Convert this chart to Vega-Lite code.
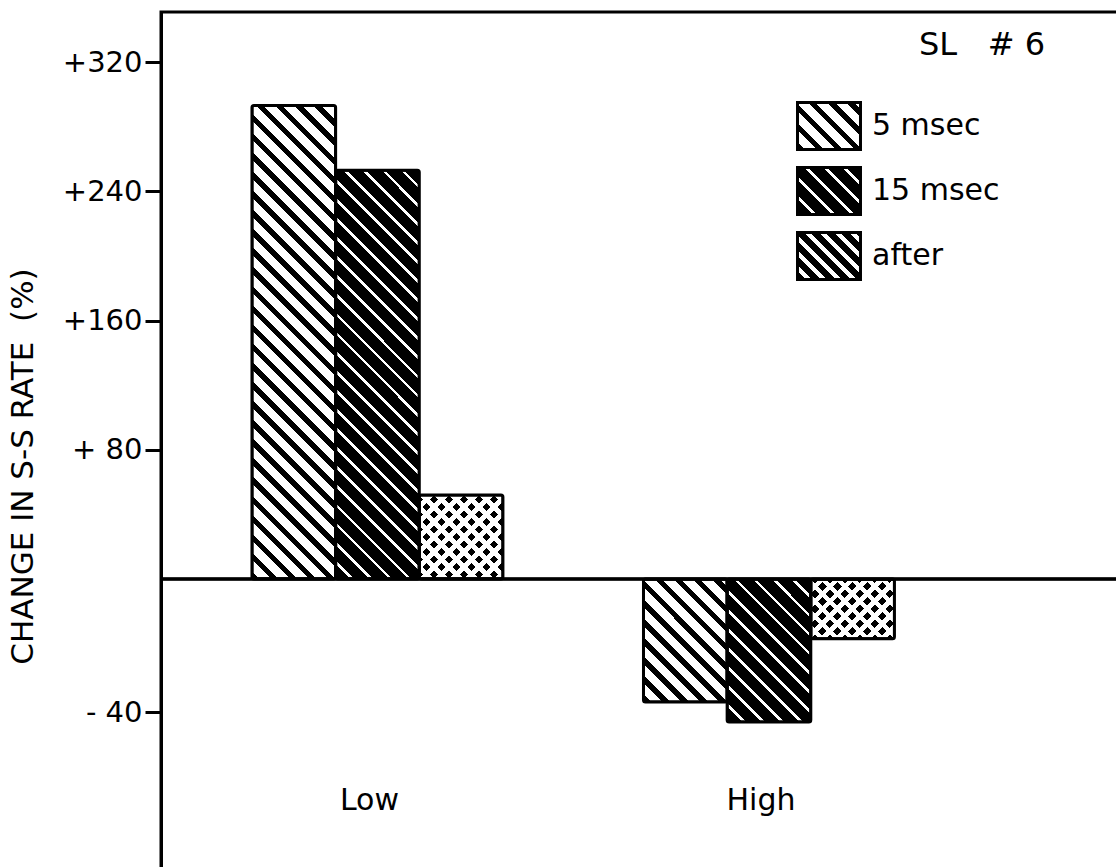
{
  "$schema": "https://vega.github.io/schema/vega-lite/v6.json",
  "width": 960,
  "height": 870,
  "autosize": "none",
  "padding": {"left": 161, "top": 12, "right": 0, "bottom": 0},
  "background": "#ffffff",
  "title": {"text": "SL\u00a0\u00a0\u00a0#\u00a06", "anchor": "end", "frame": "group", "orient": "top", "offset": -50, "dx": -76, "fontSize": 32, "fontWeight": "normal", "color": "#000", "font": "DejaVu Sans"},
  "data": {"values": [
    {"group": "Low", "duration": "5 msec", "change": 293},
    {"group": "Low", "duration": "15 msec", "change": 253},
    {"group": "Low", "duration": "after", "change": 52},
    {"group": "High", "duration": "5 msec", "change": -37},
    {"group": "High", "duration": "15 msec", "change": -43},
    {"group": "High", "duration": "after", "change": -18}
  ]},
  "params": [
    {"name": "stA", "value": [
      {"offset":0,"color":"#000"},{"offset":0.0133,"color":"#000"},{"offset":0.0133,"color":"#fff"},{"offset":0.0333,"color":"#fff"},
      {"offset":0.0333,"color":"#000"},{"offset":0.0467,"color":"#000"},{"offset":0.0467,"color":"#fff"},{"offset":0.0667,"color":"#fff"},
      {"offset":0.0667,"color":"#000"},{"offset":0.08,"color":"#000"},{"offset":0.08,"color":"#fff"},{"offset":0.1,"color":"#fff"},
      {"offset":0.1,"color":"#000"},{"offset":0.1133,"color":"#000"},{"offset":0.1133,"color":"#fff"},{"offset":0.1333,"color":"#fff"},
      {"offset":0.1333,"color":"#000"},{"offset":0.1467,"color":"#000"},{"offset":0.1467,"color":"#fff"},{"offset":0.1667,"color":"#fff"},
      {"offset":0.1667,"color":"#000"},{"offset":0.18,"color":"#000"},{"offset":0.18,"color":"#fff"},{"offset":0.2,"color":"#fff"},
      {"offset":0.2,"color":"#000"},{"offset":0.2133,"color":"#000"},{"offset":0.2133,"color":"#fff"},{"offset":0.2333,"color":"#fff"},
      {"offset":0.2333,"color":"#000"},{"offset":0.2467,"color":"#000"},{"offset":0.2467,"color":"#fff"},{"offset":0.2667,"color":"#fff"},
      {"offset":0.2667,"color":"#000"},{"offset":0.28,"color":"#000"},{"offset":0.28,"color":"#fff"},{"offset":0.3,"color":"#fff"},
      {"offset":0.3,"color":"#000"},{"offset":0.3133,"color":"#000"},{"offset":0.3133,"color":"#fff"},{"offset":0.3333,"color":"#fff"},
      {"offset":0.3333,"color":"#000"},{"offset":0.3467,"color":"#000"},{"offset":0.3467,"color":"#fff"},{"offset":0.3667,"color":"#fff"},
      {"offset":0.3667,"color":"#000"},{"offset":0.38,"color":"#000"},{"offset":0.38,"color":"#fff"},{"offset":0.4,"color":"#fff"},
      {"offset":0.4,"color":"#000"},{"offset":0.4133,"color":"#000"},{"offset":0.4133,"color":"#fff"},{"offset":0.4333,"color":"#fff"},
      {"offset":0.4333,"color":"#000"},{"offset":0.4467,"color":"#000"},{"offset":0.4467,"color":"#fff"},{"offset":0.4667,"color":"#fff"},
      {"offset":0.4667,"color":"#000"},{"offset":0.48,"color":"#000"},{"offset":0.48,"color":"#fff"},{"offset":0.5,"color":"#fff"},
      {"offset":0.5,"color":"#000"},{"offset":0.5133,"color":"#000"},{"offset":0.5133,"color":"#fff"},{"offset":0.5333,"color":"#fff"},
      {"offset":0.5333,"color":"#000"},{"offset":0.5467,"color":"#000"},{"offset":0.5467,"color":"#fff"},{"offset":0.5667,"color":"#fff"},
      {"offset":0.5667,"color":"#000"},{"offset":0.58,"color":"#000"},{"offset":0.58,"color":"#fff"},{"offset":0.6,"color":"#fff"},
      {"offset":0.6,"color":"#000"},{"offset":0.6133,"color":"#000"},{"offset":0.6133,"color":"#fff"},{"offset":0.6333,"color":"#fff"},
      {"offset":0.6333,"color":"#000"},{"offset":0.6467,"color":"#000"},{"offset":0.6467,"color":"#fff"},{"offset":0.6667,"color":"#fff"},
      {"offset":0.6667,"color":"#000"},{"offset":0.68,"color":"#000"},{"offset":0.68,"color":"#fff"},{"offset":0.7,"color":"#fff"},
      {"offset":0.7,"color":"#000"},{"offset":0.7133,"color":"#000"},{"offset":0.7133,"color":"#fff"},{"offset":0.7333,"color":"#fff"},
      {"offset":0.7333,"color":"#000"},{"offset":0.7467,"color":"#000"},{"offset":0.7467,"color":"#fff"},{"offset":0.7667,"color":"#fff"},
      {"offset":0.7667,"color":"#000"},{"offset":0.78,"color":"#000"},{"offset":0.78,"color":"#fff"},{"offset":0.8,"color":"#fff"},
      {"offset":0.8,"color":"#000"},{"offset":0.8133,"color":"#000"},{"offset":0.8133,"color":"#fff"},{"offset":0.8333,"color":"#fff"},
      {"offset":0.8333,"color":"#000"},{"offset":0.8467,"color":"#000"},{"offset":0.8467,"color":"#fff"},{"offset":0.8667,"color":"#fff"},
      {"offset":0.8667,"color":"#000"},{"offset":0.88,"color":"#000"},{"offset":0.88,"color":"#fff"},{"offset":0.9,"color":"#fff"},
      {"offset":0.9,"color":"#000"},{"offset":0.9133,"color":"#000"},{"offset":0.9133,"color":"#fff"},{"offset":0.9333,"color":"#fff"},
      {"offset":0.9333,"color":"#000"},{"offset":0.9467,"color":"#000"},{"offset":0.9467,"color":"#fff"},{"offset":0.9667,"color":"#fff"},
      {"offset":0.9667,"color":"#000"},{"offset":0.98,"color":"#000"},{"offset":0.98,"color":"#fff"},{"offset":1,"color":"#fff"}
    ]},
    {"name": "stB", "value": [
      {"offset":0,"color":"#000"},{"offset":0.0267,"color":"#000"},{"offset":0.0267,"color":"#fff"},{"offset":0.0333,"color":"#fff"},
      {"offset":0.0333,"color":"#000"},{"offset":0.06,"color":"#000"},{"offset":0.06,"color":"#fff"},{"offset":0.0667,"color":"#fff"},
      {"offset":0.0667,"color":"#000"},{"offset":0.0933,"color":"#000"},{"offset":0.0933,"color":"#fff"},{"offset":0.1,"color":"#fff"},
      {"offset":0.1,"color":"#000"},{"offset":0.1267,"color":"#000"},{"offset":0.1267,"color":"#fff"},{"offset":0.1333,"color":"#fff"},
      {"offset":0.1333,"color":"#000"},{"offset":0.16,"color":"#000"},{"offset":0.16,"color":"#fff"},{"offset":0.1667,"color":"#fff"},
      {"offset":0.1667,"color":"#000"},{"offset":0.1933,"color":"#000"},{"offset":0.1933,"color":"#fff"},{"offset":0.2,"color":"#fff"},
      {"offset":0.2,"color":"#000"},{"offset":0.2267,"color":"#000"},{"offset":0.2267,"color":"#fff"},{"offset":0.2333,"color":"#fff"},
      {"offset":0.2333,"color":"#000"},{"offset":0.26,"color":"#000"},{"offset":0.26,"color":"#fff"},{"offset":0.2667,"color":"#fff"},
      {"offset":0.2667,"color":"#000"},{"offset":0.2933,"color":"#000"},{"offset":0.2933,"color":"#fff"},{"offset":0.3,"color":"#fff"},
      {"offset":0.3,"color":"#000"},{"offset":0.3267,"color":"#000"},{"offset":0.3267,"color":"#fff"},{"offset":0.3333,"color":"#fff"},
      {"offset":0.3333,"color":"#000"},{"offset":0.36,"color":"#000"},{"offset":0.36,"color":"#fff"},{"offset":0.3667,"color":"#fff"},
      {"offset":0.3667,"color":"#000"},{"offset":0.3933,"color":"#000"},{"offset":0.3933,"color":"#fff"},{"offset":0.4,"color":"#fff"},
      {"offset":0.4,"color":"#000"},{"offset":0.4267,"color":"#000"},{"offset":0.4267,"color":"#fff"},{"offset":0.4333,"color":"#fff"},
      {"offset":0.4333,"color":"#000"},{"offset":0.46,"color":"#000"},{"offset":0.46,"color":"#fff"},{"offset":0.4667,"color":"#fff"},
      {"offset":0.4667,"color":"#000"},{"offset":0.4933,"color":"#000"},{"offset":0.4933,"color":"#fff"},{"offset":0.5,"color":"#fff"},
      {"offset":0.5,"color":"#000"},{"offset":0.5267,"color":"#000"},{"offset":0.5267,"color":"#fff"},{"offset":0.5333,"color":"#fff"},
      {"offset":0.5333,"color":"#000"},{"offset":0.56,"color":"#000"},{"offset":0.56,"color":"#fff"},{"offset":0.5667,"color":"#fff"},
      {"offset":0.5667,"color":"#000"},{"offset":0.5933,"color":"#000"},{"offset":0.5933,"color":"#fff"},{"offset":0.6,"color":"#fff"},
      {"offset":0.6,"color":"#000"},{"offset":0.6267,"color":"#000"},{"offset":0.6267,"color":"#fff"},{"offset":0.6333,"color":"#fff"},
      {"offset":0.6333,"color":"#000"},{"offset":0.66,"color":"#000"},{"offset":0.66,"color":"#fff"},{"offset":0.6667,"color":"#fff"},
      {"offset":0.6667,"color":"#000"},{"offset":0.6933,"color":"#000"},{"offset":0.6933,"color":"#fff"},{"offset":0.7,"color":"#fff"},
      {"offset":0.7,"color":"#000"},{"offset":0.7267,"color":"#000"},{"offset":0.7267,"color":"#fff"},{"offset":0.7333,"color":"#fff"},
      {"offset":0.7333,"color":"#000"},{"offset":0.76,"color":"#000"},{"offset":0.76,"color":"#fff"},{"offset":0.7667,"color":"#fff"},
      {"offset":0.7667,"color":"#000"},{"offset":0.7933,"color":"#000"},{"offset":0.7933,"color":"#fff"},{"offset":0.8,"color":"#fff"},
      {"offset":0.8,"color":"#000"},{"offset":0.8267,"color":"#000"},{"offset":0.8267,"color":"#fff"},{"offset":0.8333,"color":"#fff"},
      {"offset":0.8333,"color":"#000"},{"offset":0.86,"color":"#000"},{"offset":0.86,"color":"#fff"},{"offset":0.8667,"color":"#fff"},
      {"offset":0.8667,"color":"#000"},{"offset":0.8933,"color":"#000"},{"offset":0.8933,"color":"#fff"},{"offset":0.9,"color":"#fff"},
      {"offset":0.9,"color":"#000"},{"offset":0.9267,"color":"#000"},{"offset":0.9267,"color":"#fff"},{"offset":0.9333,"color":"#fff"},
      {"offset":0.9333,"color":"#000"},{"offset":0.96,"color":"#000"},{"offset":0.96,"color":"#fff"},{"offset":0.9667,"color":"#fff"},
      {"offset":0.9667,"color":"#000"},{"offset":0.9933,"color":"#000"},{"offset":0.9933,"color":"#fff"},{"offset":1,"color":"#fff"}
    ]},
    {"name": "stC", "value": [
      {"offset":0,"color":"#000"},{"offset":0.0458,"color":"#000"},{"offset":0.0458,"color":"#fff"},{"offset":0.0833,"color":"#fff"},
      {"offset":0.0833,"color":"#000"},{"offset":0.1292,"color":"#000"},{"offset":0.1292,"color":"#fff"},{"offset":0.1667,"color":"#fff"},
      {"offset":0.1667,"color":"#000"},{"offset":0.2125,"color":"#000"},{"offset":0.2125,"color":"#fff"},{"offset":0.25,"color":"#fff"},
      {"offset":0.25,"color":"#000"},{"offset":0.2958,"color":"#000"},{"offset":0.2958,"color":"#fff"},{"offset":0.3333,"color":"#fff"},
      {"offset":0.3333,"color":"#000"},{"offset":0.3792,"color":"#000"},{"offset":0.3792,"color":"#fff"},{"offset":0.4167,"color":"#fff"},
      {"offset":0.4167,"color":"#000"},{"offset":0.4625,"color":"#000"},{"offset":0.4625,"color":"#fff"},{"offset":0.5,"color":"#fff"},
      {"offset":0.5,"color":"#000"},{"offset":0.5458,"color":"#000"},{"offset":0.5458,"color":"#fff"},{"offset":0.5833,"color":"#fff"},
      {"offset":0.5833,"color":"#000"},{"offset":0.6292,"color":"#000"},{"offset":0.6292,"color":"#fff"},{"offset":0.6667,"color":"#fff"},
      {"offset":0.6667,"color":"#000"},{"offset":0.7125,"color":"#000"},{"offset":0.7125,"color":"#fff"},{"offset":0.75,"color":"#fff"},
      {"offset":0.75,"color":"#000"},{"offset":0.7958,"color":"#000"},{"offset":0.7958,"color":"#fff"},{"offset":0.8333,"color":"#fff"},
      {"offset":0.8333,"color":"#000"},{"offset":0.8792,"color":"#000"},{"offset":0.8792,"color":"#fff"},{"offset":0.9167,"color":"#fff"},
      {"offset":0.9167,"color":"#000"},{"offset":0.9625,"color":"#000"},{"offset":0.9625,"color":"#fff"},{"offset":1,"color":"#fff"}
    ]},
    {"name": "stD", "value": [
      {"offset":0,"color":"rgba(255,255,255,0)"},{"offset":0.0458,"color":"rgba(255,255,255,0)"},{"offset":0.0458,"color":"#fff"},{"offset":0.0833,"color":"#fff"},
      {"offset":0.0833,"color":"rgba(255,255,255,0)"},{"offset":0.1292,"color":"rgba(255,255,255,0)"},{"offset":0.1292,"color":"#fff"},{"offset":0.1667,"color":"#fff"},
      {"offset":0.1667,"color":"rgba(255,255,255,0)"},{"offset":0.2125,"color":"rgba(255,255,255,0)"},{"offset":0.2125,"color":"#fff"},{"offset":0.25,"color":"#fff"},
      {"offset":0.25,"color":"rgba(255,255,255,0)"},{"offset":0.2958,"color":"rgba(255,255,255,0)"},{"offset":0.2958,"color":"#fff"},{"offset":0.3333,"color":"#fff"},
      {"offset":0.3333,"color":"rgba(255,255,255,0)"},{"offset":0.3792,"color":"rgba(255,255,255,0)"},{"offset":0.3792,"color":"#fff"},{"offset":0.4167,"color":"#fff"},
      {"offset":0.4167,"color":"rgba(255,255,255,0)"},{"offset":0.4625,"color":"rgba(255,255,255,0)"},{"offset":0.4625,"color":"#fff"},{"offset":0.5,"color":"#fff"},
      {"offset":0.5,"color":"rgba(255,255,255,0)"},{"offset":0.5458,"color":"rgba(255,255,255,0)"},{"offset":0.5458,"color":"#fff"},{"offset":0.5833,"color":"#fff"},
      {"offset":0.5833,"color":"rgba(255,255,255,0)"},{"offset":0.6292,"color":"rgba(255,255,255,0)"},{"offset":0.6292,"color":"#fff"},{"offset":0.6667,"color":"#fff"},
      {"offset":0.6667,"color":"rgba(255,255,255,0)"},{"offset":0.7125,"color":"rgba(255,255,255,0)"},{"offset":0.7125,"color":"#fff"},{"offset":0.75,"color":"#fff"},
      {"offset":0.75,"color":"rgba(255,255,255,0)"},{"offset":0.7958,"color":"rgba(255,255,255,0)"},{"offset":0.7958,"color":"#fff"},{"offset":0.8333,"color":"#fff"},
      {"offset":0.8333,"color":"rgba(255,255,255,0)"},{"offset":0.8792,"color":"rgba(255,255,255,0)"},{"offset":0.8792,"color":"#fff"},{"offset":0.9167,"color":"#fff"},
      {"offset":0.9167,"color":"rgba(255,255,255,0)"},{"offset":0.9625,"color":"rgba(255,255,255,0)"},{"offset":0.9625,"color":"#fff"},{"offset":1,"color":"#fff"}
    ]}
  ],
  "layer": [
    {
      "encoding": {
        "x": {"field": "group", "type": "nominal", "sort": ["Low", "High"],
          "scale": {"paddingInner": 0.359, "paddingOuter": 0.4055, "align": 0.2865},
          "axis": {"title": null, "labelFontSize": 30, "labelColor": "#000", "labelBaseline": "alphabetic", "labelPadding": -73, "labelOffset": -8, "ticks": false, "tickSize": 0, "domain": false, "labelAngle": 0, "grid": false}},
        "xOffset": {"field": "duration", "type": "nominal", "sort": ["5 msec", "15 msec", "after"], "scale": {"paddingInner": 0, "paddingOuter": 0}},
        "y": {"field": "change", "type": "quantitative",
          "scale": {"domain": [-91.1, 0, 350.95], "range": [870, 567, 0], "nice": false, "zero": false},
          "axis": {"values": [-40, 80, 160, 240, 320],
            "labelExpr": "datum.value === 80 ? '+ 80' : datum.value === -40 ? '- 40' : '+' + datum.value",
            "title": "CHANGE IN S-S RATE\u00a0\u00a0(%)", "titleFontSize": 31, "titleFontWeight": "normal", "titleColor": "#000",
            "titleX": -129, "titleY": 454, "titleAngle": -90, "titleAlign": "center", "titleBaseline": "alphabetic",
            "labelFontSize": 29, "labelColor": "#000", "labelPadding": 3, "tickSize": 16, "tickWidth": 3, "tickColor": "#000",
            "domainColor": "#000", "domainWidth": 3, "grid": false}}
      },
      "layer": [
        {
          "mark": {"type": "bar", "strokeWidth": 0},
          "encoding": {
            "fill": {"field": "duration", "type": "nominal",
              "scale": {"domain": ["5 msec", "15 msec", "after"], "range": [
                {"expr": "{gradient:'linear',x1:0,y1:1,x2:5.8407,y2:-3.357,stops:stA}"},
                {"expr": "{gradient:'linear',x1:0,y1:1,x2:5.8407,y2:-3.357,stops:stB}"},
                {"expr": "{gradient:'linear',x1:0,y1:1,x2:1.8345,y2:-0.3685,stops:stC}"}
              ]},
              "legend": {"title": null, "orient": "none", "legendX": 643, "legendY": 89, "padding": 0,
                "symbolType": "M-1.34,-1H1.34V1H-1.34Z", "symbolSize": 2209, "symbolStrokeWidth": 3, "symbolStrokeColor": "#000",
                "labelFontSize": 30, "labelColor": "#000", "labelOffset": 18, "rowPadding": 5}
            }
          }
        },
        {
          "mark": {"type": "bar"},
          "encoding": {
            "fill": {"condition": [
              {"test": "datum.group === 'Low' && datum.duration === '5 msec'", "value": {"expr": "{gradient:'linear',x1:0,y1:1,x2:0.2074,y2:-0.1732,stops:stA}"}},
              {"test": "datum.group === 'Low' && datum.duration === '15 msec'", "value": {"expr": "{gradient:'linear',x1:0,y1:1,x2:0.2755,y2:-0.345,stops:stB}"}},
              {"test": "datum.group === 'Low' && datum.duration === 'after'", "value": {"expr": "{gradient:'linear',x1:0,y1:1,x2:1.0708,y2:-0.0747,stops:stC}"}},
              {"test": "datum.group === 'High' && datum.duration === '5 msec'", "value": {"expr": "{gradient:'linear',x1:0,y1:1,x2:2.1658,y2:-2.1827,stops:stA}"}},
              {"test": "datum.group === 'High' && datum.duration === '15 msec'", "value": {"expr": "{gradient:'linear',x1:0,y1:1,x2:1.7461,y2:-1.9832,stops:stB}"}}
            ], "value": {"expr": "{gradient:'linear',x1:0,y1:1,x2:1.4213,y2:-0.0172,stops:stC}"}}
          }
        },
        {
          "transform": [{"filter": "datum.duration === 'after'"}],
          "mark": {"type": "bar"},
          "encoding": {
            "fill": {"condition": {"test": "datum.group === 'Low'", "value": {"expr": "{gradient:'linear',x1:0,y1:0,x2:1.0708,y2:1.0747,stops:stD}"}},
              "value": {"expr": "{gradient:'linear',x1:0,y1:0,x2:1.4213,y2:1.0172,stops:stD}"}}
          }
        },
        {
          "mark": {"type": "bar", "fill": "transparent", "stroke": "#000", "strokeWidth": 3, "cornerRadius": 2}
        }
      ]
    },
    {
      "mark": {"type": "rule", "color": "#000", "strokeWidth": 2.5},
      "encoding": {"y": {"datum": 0}}
    }
  ],
  "config": {
    "font": "DejaVu Sans",
    "view": {"stroke": "#000", "strokeWidth": 3},
    "axis": {"labelFont": "DejaVu Sans", "titleFont": "DejaVu Sans"},
    "legend": {"labelFont": "DejaVu Sans"}
  }
}
